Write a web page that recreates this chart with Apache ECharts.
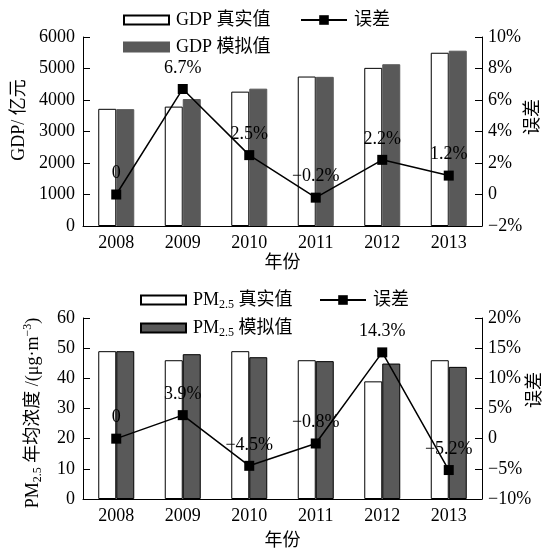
<!DOCTYPE html>
<html>
<head>
<meta charset="utf-8">
<script src="https://cdn.jsdelivr.net/npm/echarts@6/dist/echarts.min.js"></script>
<style>
  html, body { margin: 0; padding: 0; background: #fff; }
  #main { width: 544px; height: 550px; }
</style>
</head>
<body>
<div id="main"></div>
<script>
var years = ['2008', '2009', '2010', '2011', '2012', '2013'];
var gdpReal = [3720, 3790, 4265, 4745, 5020, 5500];
var gdpSim = [3710, 4030, 4360, 4735, 5135, 5565];
var gdpErr = [0, 6.7, 2.5, -0.2, 2.2, 1.2];
var pmReal = [49, 46, 49, 46, 39, 46];
var pmSim = [49, 48, 47, 45.7, 44.9, 43.8];
var pmErr = [0, 3.9, -4.5, -0.8, 14.3, -5.2];

var FONT = "'Liberation Serif', 'Noto Sans CJK SC', serif";
var GRAY = '#595959';
var FS = 18;

function pct(v) {
  if (v === 0) return '0';
  return (v < 0 ? '\u2212' : '') + Math.abs(v) + '%';
}

function plain(v) {
  return String(v);
}

var rich = {
  n: { fontFamily: FONT, fontSize: FS, color: '#000', lineHeight: 22 },
  sub: { fontFamily: FONT, fontSize: 12, color: '#000', lineHeight: 13, verticalAlign: 'bottom' },
  sup: { fontFamily: FONT, fontSize: 12, color: '#000', lineHeight: 13, verticalAlign: 'top' }
};

var legendText = {
  'GDP 真实值': '{n|GDP 真实值}',
  'GDP 模拟值': '{n|GDP 模拟值}',
  '误差': '{n|误差}',
  'PM2.5 真实值': '{n|PM}{sub|2.5}{n| 真实值}',
  'PM2.5 模拟值': '{n|PM}{sub|2.5}{n| 模拟值}',
  '误差 ': '{n|误差}'
};

function legend(name, left, top) {
  var isLine = name.indexOf('误差') === 0;
  return {
    data: [name],
    left: left,
    top: top,
    icon: isLine ? null : 'rect',
    itemWidth: isLine ? 46 : 45,
    itemHeight: isLine ? 12 : 9,
    selectedMode: false,
    formatter: function (n) { return legendText[n]; },
    textStyle: { rich: rich, padding: [0, 0, 0, 2] }
  };
}

function txt(extra) {
  return Object.assign({ color: '#000', fontFamily: FONT, fontSize: FS }, extra);
}

var axisCommon = {
  axisLine: { show: true, lineStyle: { color: '#000', width: 1 } },
  axisTick: { show: true, inside: true, length: 7, lineStyle: { color: '#000' } },
  splitLine: { show: false },
  axisLabel: txt({ margin: 8, formatter: plain }),
  nameLocation: 'middle',
  nameMoveOverlap: false,
  nameTextStyle: txt({})
};

function yAxis(extra) {
  return Object.assign({}, axisCommon, { type: 'value' }, extra);
}

function xAxis(gridIndex, gap) {
  return {
    type: 'category',
    gridIndex: gridIndex,
    data: years,
    axisLine: { lineStyle: { color: '#000', width: 1 } },
    axisTick: { show: false },
    axisLabel: txt({ margin: 8 }),
    name: '年份',
    nameLocation: 'middle',
    nameGap: gap,
    nameTextStyle: txt({})
  };
}

function barSeries(name, data, xi, yi, fill, border) {
  return {
    name: name,
    type: 'bar',
    xAxisIndex: xi,
    yAxisIndex: yi,
    data: data,
    barWidth: 18,
    barGap: '0%',
    itemStyle: { color: fill, borderColor: border, borderWidth: 1 }
  };
}

function errSeries(name, data, xi, yi) {
  return {
    name: name,
    type: 'line',
    xAxisIndex: xi,
    yAxisIndex: yi,
    data: data,
    symbol: 'rect',
    symbolSize: 10,
    z: 5,
    itemStyle: { color: '#000' },
    lineStyle: { color: '#000', width: 1.5 },
    label: txt({
      show: true,
      position: 'top',
      distance: 7,
      formatter: function (p) { return pct(p.value); }
    })
  };
}

var chart = echarts.init(document.getElementById('main'));
var option = {
  backgroundColor: '#fff',
  animation: false,
  textStyle: { fontFamily: FONT },
  legend: [
    legend('GDP 真实值', 118, 6),
    legend('GDP 模拟值', 118, 33),
    legend('误差', 295, 6),
    legend('PM2.5 真实值', 135, 286),
    legend('PM2.5 模拟值', 135, 314),
    legend('误差 ', 314, 286)
  ],
  grid: [
    { left: 83, right: 62, top: 37, height: 189, outerBoundsMode: 'none', containLabel: false },
    { left: 83, right: 62, top: 318, height: 181, outerBoundsMode: 'none', containLabel: false }
  ],
  xAxis: [xAxis(0, 28), xAxis(1, 33)],
  yAxis: [
    yAxis({ gridIndex: 0, position: 'left', min: 0, max: 6000, interval: 1000,
      name: 'GDP/ 亿元', nameGap: 55,
      nameTextStyle: txt({ padding: [0, 0, 0, 23] }) }),
    yAxis({ gridIndex: 0, position: 'right', min: -2, max: 10, interval: 2,
      axisLabel: txt({ margin: 6, formatter: pct }),
      name: '误差', nameGap: 42,
      nameTextStyle: txt({ padding: [0, 0, 0, 29] }) }),
    yAxis({ gridIndex: 1, position: 'left', min: 0, max: 60, interval: 10,
      name: '{n|PM}{sub|2.5}{n| 年均浓度 /(μg·m}{sup|\u22123}{n|)}', nameGap: 39,
      nameTextStyle: { rich: rich, padding: [0, 9, 0, 0] } }),
    yAxis({ gridIndex: 1, position: 'right', min: -10, max: 20, interval: 5,
      axisLabel: txt({ margin: 6, formatter: pct }),
      name: '误差', nameGap: 44,
      nameTextStyle: txt({ padding: [0, 0, 0, 37] }) })
  ],
  series: [
    barSeries('GDP 真实值', gdpReal, 0, 0, '#fff', '#000'),
    barSeries('GDP 模拟值', gdpSim, 0, 0, GRAY, GRAY),
    errSeries('误差', gdpErr, 0, 1),
    barSeries('PM2.5 真实值', pmReal, 1, 2, '#fff', '#000'),
    barSeries('PM2.5 模拟值', pmSim, 1, 2, GRAY, '#000'),
    errSeries('误差 ', pmErr, 1, 3)
  ]
};
chart.setOption(option);
window.addEventListener('resize', function () {
  chart.resize();
});
</script>
</body>
</html>
